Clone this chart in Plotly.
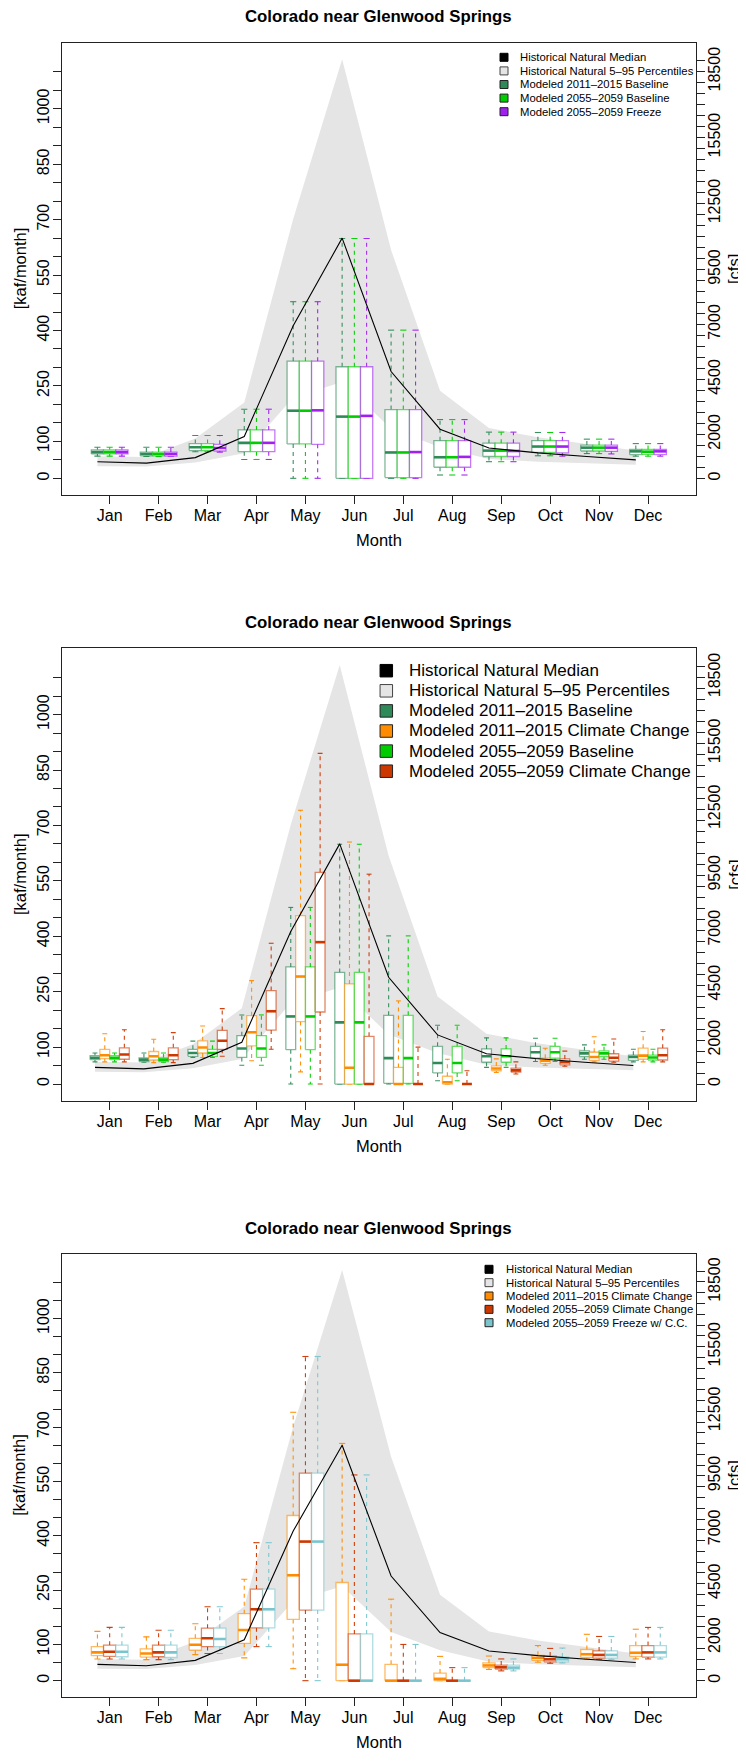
import plotly.graph_objects as go

# page is rendered with an 8px body margin; figure coordinates are offset accordingly
PAGE_W, PAGE_H = 746, 1763
OFF = 8
W, H = PAGE_W - OFF, PAGE_H - 2 * OFF

# ---------------- data ----------------
months = ['Jan', 'Feb', 'Mar', 'Apr', 'May', 'Jun', 'Jul', 'Aug', 'Sep', 'Oct', 'Nov', 'Dec']
month_idx = list(range(1, 13))

# historical natural flows [kaf/month]
hist_median = [45, 41, 56, 113, 413, 650, 289, 133, 82, 69, 59, 50]
hist_p95 = [60, 58, 108, 205, 702, 1134, 618, 237, 136, 111, 93, 75]
hist_p05 = [33, 32, 43, 68, 219, 261, 134, 84, 52, 45, 41, 37]

# Modeled 2011-2015 Baseline
base2011_lo = [60, 59, 72, 51, 0, 0, 0, 9, 45, 61, 67, 60]
base2011_q1 = [66, 61, 75, 72, 93, 0, 2, 30, 59, 70, 74, 64]
base2011_med = [71, 66, 84, 96, 183, 167, 70, 57, 75, 86, 83, 73]
base2011_q3 = [77, 71, 94, 131, 317, 302, 186, 102, 95, 102, 90, 78]
base2011_hi = [84, 84, 116, 187, 478, 649, 401, 159, 125, 124, 106, 94]

# Modeled 2055-2059 Baseline
base2055_lo = [60, 59, 72, 51, 0, 0, 0, 9, 45, 61, 67, 60]
base2055_q1 = [66, 61, 75, 72, 93, 0, 2, 30, 59, 70, 74, 65]
base2055_med = [71, 66, 84, 96, 183, 167, 70, 57, 75, 86, 83, 72]
base2055_q3 = [77, 71, 94, 131, 317, 302, 186, 102, 95, 102, 90, 78]
base2055_hi = [84, 84, 116, 187, 478, 649, 401, 159, 125, 124, 106, 94]

# Modeled 2055-2059 Freeze
freeze2055_lo = [60, 59, 71, 51, 0, 0, 0, 9, 45, 60, 66, 60]
freeze2055_q1 = [66, 60, 74, 72, 92, 0, 2, 30, 59, 69, 73, 64]
freeze2055_med = [71, 66, 82, 96, 184, 169, 71, 58, 74, 86, 83, 73]
freeze2055_q3 = [77, 71, 92, 131, 317, 302, 186, 102, 95, 102, 90, 78]
freeze2055_hi = [84, 84, 116, 187, 478, 649, 401, 159, 125, 124, 106, 94]

# Modeled 2011-2015 Climate Change
cc2011_lo = [60, 58, 72, 63, 33, 0, 0, 0, 31, 51, 60, 60]
cc2011_q1 = [69, 65, 84, 103, 169, 0, 0, 0, 36, 56, 64, 67]
cc2011_med = [78, 75, 99, 140, 291, 44, 0, 5, 42, 63, 73, 77]
cc2011_q3 = [94, 88, 117, 185, 456, 271, 45, 21, 49, 70, 86, 97]
cc2011_hi = [136, 121, 157, 280, 741, 655, 225, 67, 68, 97, 128, 142]

# Modeled 2055-2059 Climate Change
cc2055_lo = [60, 58, 75, 94, 0, 0, 0, 0, 27, 48, 59, 60]
cc2055_q1 = [67, 66, 94, 146, 195, 0, 0, 0, 32, 52, 62, 65]
cc2055_med = [80, 78, 117, 197, 384, 0, 0, 0, 37, 59, 71, 78]
cc2055_q3 = [98, 98, 145, 253, 573, 129, 0, 0, 43, 68, 82, 97]
cc2055_hi = [147, 139, 204, 381, 895, 568, 100, 36, 60, 89, 122, 147]

# Modeled 2055-2059 Freeze w/ C.C.
freezecc2055_lo = [60, 58, 75, 94, 0, 0, 0, 0, 27, 49, 59, 60]
freezecc2055_q1 = [66, 64, 94, 146, 195, 0, 0, 0, 32, 52, 62, 65]
freezecc2055_med = [80, 78, 115, 197, 384, 0, 0, 0, 36, 59, 71, 78]
freezecc2055_q3 = [98, 98, 145, 253, 573, 129, 0, 0, 43, 65, 82, 97]
freezecc2055_hi = [147, 139, 204, 381, 895, 568, 100, 36, 60, 90, 122, 147]

kaf_ticks = list(range(0, 1101, 50))
kaf_labels = [0, 100, 250, 400, 550, 700, 850, 1000]
cfs_ticks = list(range(0, 19001, 500))
cfs_labels = [0, 2000, 4500, 7000, 9500, 12500, 15500, 18500]
KAF_PER_CFS = 0.0595  # kaf per month for 1 cfs

title_text = 'Colorado near Glenwood Springs'

# ---------------- styles ----------------
C_DG = (46, 139, 87)
C_GR = (0, 205, 0)
C_PU = (160, 32, 240)
C_OR = (255, 140, 0)
C_RD = (205, 55, 0)
C_BL = (122, 197, 205)
BAND = '#E5E5E5'
AX = '#222222'


def rgb(c, a=1.0):
    return 'rgba(%d,%d,%d,%.2f)' % (c[0], c[1], c[2], a)


series_defs = {
    'base2011': ('Modeled 2011\u20132015 Baseline', C_DG,
                 base2011_lo, base2011_q1, base2011_med, base2011_q3, base2011_hi),
    'base2055': ('Modeled 2055\u20132059 Baseline', C_GR,
                 base2055_lo, base2055_q1, base2055_med, base2055_q3, base2055_hi),
    'freeze2055': ('Modeled 2055\u20132059 Freeze', C_PU,
                   freeze2055_lo, freeze2055_q1, freeze2055_med, freeze2055_q3, freeze2055_hi),
    'cc2011': ('Modeled 2011\u20132015 Climate Change', C_OR,
               cc2011_lo, cc2011_q1, cc2011_med, cc2011_q3, cc2011_hi),
    'cc2055': ('Modeled 2055\u20132059 Climate Change', C_RD,
               cc2055_lo, cc2055_q1, cc2055_med, cc2055_q3, cc2055_hi),
    'freezecc2055': ('Modeled 2055\u20132059 Freeze w/ C.C.', C_BL,
                     freezecc2055_lo, freezecc2055_q1, freezecc2055_med, freezecc2055_q3, freezecc2055_hi),
}

# layout positions in page pixels
panels = [
    dict(top=42.5, bottom=495.1, keys=['base2011', 'base2055', 'freeze2055'],
         offsets=[-0.25, 0.0, 0.25], width=0.25,
         leg=dict(row0=14.8, dy=13.6, sq_x=504, sq=8, tx=518, font=11.3)),
    dict(top=648.3, bottom=1100.8, keys=['base2011', 'cc2011', 'base2055', 'cc2055'],
         offsets=[-0.3, -0.1, 0.1, 0.3], width=0.2,
         leg=dict(row0=22.4, dy=20.1, sq_x=386.3, sq=12.5, tx=407.3, font=17)),
    dict(top=1253.5, bottom=1697.1, keys=['cc2011', 'cc2055', 'freezecc2055'],
         offsets=[-0.25, 0.0, 0.25], width=0.25,
         leg=dict(row0=15.8, dy=13.35, sq_x=489, sq=8, tx=504, font=11.3)),
]

X0PX, X1PX = 61.7, 696.0
XR = [0.02, 12.98]
YR = [-45.4, 1179.4]
FONT = 'Liberation Sans, Arial, Helvetica, sans-serif'


def fx(p):
    return (p - OFF) / W


def fy(p):
    return 1 - (p - OFF) / H


fig = go.Figure()
layout = dict(width=W, height=H, margin=dict(l=0, r=0, t=0, b=0),
              plot_bgcolor='white', paper_bgcolor='white', showlegend=False,
              font=dict(family=FONT, color='black'))
annotations = []
shapes = []

for pi, P in enumerate(panels):
    n = pi + 1
    xa = 'x' if n == 1 else 'x%d' % n
    ya = 'y' if n == 1 else 'y%d' % n
    yr_name = 'y%d' % (n + 3)
    off0 = P['offsets'][0]

    # band (5-95 percentiles)
    bx = [m + off0 for m in month_idx]
    fig.add_trace(go.Scatter(x=bx + bx[::-1], y=hist_p95 + hist_p05[::-1], fill='toself',
                             fillcolor=BAND, line=dict(width=0), mode='lines',
                             xaxis=xa, yaxis=ya, hoverinfo='skip'))

    # boxes
    for k, off in zip(P['keys'], P['offsets']):
        name, col, lo, q1, med, q3, hi = series_defs[k]
        w = P['width']
        bxs, bys, wxs, wys, cxs, cys, mxs, mys = [], [], [], [], [], [], [], []
        for i, m in enumerate(month_idx):
            c = m + off
            a, b = c - w / 2, c + w / 2
            bxs += [a, b, b, a, a, None]
            bys += [q1[i], q1[i], q3[i], q3[i], q1[i], None]
            wxs += [c, c, None, c, c, None]
            wys += [q3[i], hi[i], None, q1[i], lo[i], None]
            cxs += [c - w / 4, c + w / 4, None, c - w / 4, c + w / 4, None]
            cys += [hi[i], hi[i], None, lo[i], lo[i], None]
            mxs += [a, b, None]
            mys += [med[i], med[i], None]
        fig.add_trace(go.Scatter(x=wxs, y=wys, mode='lines', xaxis=xa, yaxis=ya,
                                 line=dict(color=rgb(col, 0.95), width=1.1, dash='4px,4px'),
                                 hoverinfo='skip'))
        fig.add_trace(go.Scatter(x=cxs, y=cys, mode='lines', xaxis=xa, yaxis=ya,
                                 line=dict(color=rgb(col, 0.95), width=1.1), hoverinfo='skip'))
        fig.add_trace(go.Scatter(x=bxs, y=bys, mode='lines', fill='toself', fillcolor='white',
                                 xaxis=xa, yaxis=ya, line=dict(color=rgb(col, 0.6), width=1.3),
                                 hoverinfo='skip'))
        fig.add_trace(go.Scatter(x=mxs, y=mys, mode='lines', xaxis=xa, yaxis=ya,
                                 line=dict(color=rgb(col, 1.0), width=2.6), hoverinfo='skip'))

    # historical median line
    fig.add_trace(go.Scatter(x=bx, y=hist_median, mode='lines', xaxis=xa, yaxis=ya,
                             line=dict(color='black', width=1.1), hoverinfo='skip'))
    # right axis anchor trace (cfs)
    fig.add_trace(go.Scatter(x=[None], y=[None], mode='lines', xaxis=xa, yaxis=yr_name,
                             hoverinfo='skip'))

    dom = [fy(P['bottom']), fy(P['top'])]
    layout['xaxis' if n == 1 else 'xaxis%d' % n] = dict(
        domain=[fx(X0PX), fx(X1PX)], range=XR, anchor=ya,
        tickmode='array', tickvals=month_idx, ticktext=months,
        ticks='outside', ticklen=8, tickcolor=AX, tickwidth=1,
        showline=True, linecolor=AX, linewidth=1, mirror=True,
        showgrid=False, zeroline=False, tickfont=dict(size=16), ticklabelstandoff=-2)
    layout['yaxis' if n == 1 else 'yaxis%d' % n] = dict(
        domain=dom, range=YR, anchor=xa,
        tickmode='array', tickvals=kaf_ticks,
        ticktext=[str(v) if v in kaf_labels else '' for v in kaf_ticks],
        tickangle=-90, ticks='outside', ticklen=8, tickcolor=AX, tickwidth=1,
        showline=True, linecolor=AX, linewidth=1, mirror=True,
        showgrid=False, zeroline=False, tickfont=dict(size=16), ticklabelstandoff=-3)
    layout['yaxis%d' % (n + 3)] = dict(
        overlaying=ya, side='right', anchor=xa,
        range=[YR[0] / KAF_PER_CFS, YR[1] / KAF_PER_CFS],
        tickmode='array', tickvals=cfs_ticks,
        ticktext=[str(v) if v in cfs_labels else '' for v in cfs_ticks],
        tickangle=-90, ticks='outside', ticklen=8, tickcolor=AX, tickwidth=1,
        showline=False, showgrid=False, zeroline=False, tickfont=dict(size=16),
        ticklabelstandoff=-4)

    midy = (P['top'] + P['bottom']) / 2
    # title
    annotations.append(dict(text='<b>%s</b>' % title_text, x=fx((X0PX + X1PX) / 2),
                            y=fy(P['top'] - 25.5), xref='paper', yref='paper',
                            showarrow=False, xanchor='center', yanchor='middle',
                            font=dict(size=16.8, color='black')))
    annotations.append(dict(text='Month', x=fx((X0PX + X1PX) / 2), y=fy(P['bottom'] + 45),
                            xref='paper', yref='paper', showarrow=False,
                            xanchor='center', yanchor='middle', font=dict(size=16.5)))
    annotations.append(dict(text='[kaf/month]', x=fx(19.5), y=fy(midy), xref='paper',
                            yref='paper', showarrow=False, textangle=-90,
                            xanchor='center', yanchor='middle', font=dict(size=16.5)))
    annotations.append(dict(text='[cfs]', x=fx(734.2), y=fy(midy), xref='paper',
                            yref='paper', showarrow=False, textangle=-90,
                            xanchor='center', yanchor='middle', font=dict(size=16.5)))

    # legend
    L = P['leg']
    entries = [('Historical Natural Median', 'black', 'black'),
               ('Historical Natural 5\u201395 Percentiles', BAND, '#444444')]
    for k in P['keys']:
        name, col = series_defs[k][0], series_defs[k][1]
        entries.append((name, rgb(col), '#222222'))
    for j, (txt, fill, edge) in enumerate(entries):
        yc = P['top'] + L['row0'] + j * L['dy']
        s = L['sq'] / 2
        shapes.append(dict(type='rect', xref='paper', yref='paper',
                           x0=fx(L['sq_x'] - s), x1=fx(L['sq_x'] + s),
                           y0=fy(yc + s), y1=fy(yc - s),
                           fillcolor=fill, line=dict(color=edge, width=1)))
        annotations.append(dict(text=txt, x=fx(L['tx']), y=fy(yc), xref='paper', yref='paper',
                                showarrow=False, xanchor='left', yanchor='middle',
                                font=dict(size=L['font'], color='black')))

layout['annotations'] = annotations
layout['shapes'] = shapes
fig.update_layout(**layout)
fig.write_html('out.html')
